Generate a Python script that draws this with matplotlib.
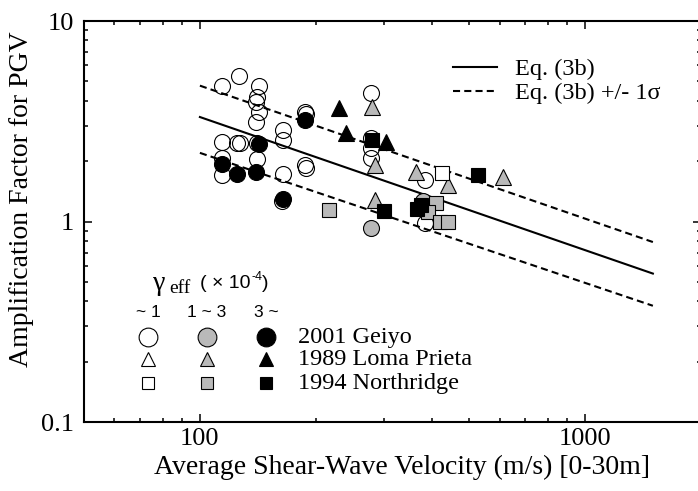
import matplotlib
matplotlib.use("Agg")
import matplotlib.pyplot as plt
from matplotlib.ticker import NullFormatter

plt.rcParams['font.family'] = ['Liberation Serif', 'DejaVu Serif']
plt.rcParams['font.size'] = 19

# --- data (Vs30 in m/s, amplification factor) ---
# 2001 Geiyo
geiyo_low_v = [114, 126, 142, 141, 140, 142, 140, 114, 125, 127, 141, 114, 114,
               141, 164, 164, 164, 187, 189, 187, 189, 278, 278, 278, 278, 383,
               383, 163]
geiyo_low_amp = [4.74, 5.32, 4.74, 4.19, 3.96, 3.53, 3.15, 2.50, 2.47, 2.45, 2.46,
                 2.07, 1.71, 2.05, 2.86, 2.55, 1.73, 3.52, 3.45, 1.92, 1.85, 4.39,
                 2.61, 2.33, 2.07, 1.61, 0.98, 1.26]
geiyo_mid_v = [278, 380]
geiyo_mid_amp = [0.925, 1.27]
geiyo_high_v = [114, 125, 140, 142, 187, 164]
geiyo_high_amp = [1.94, 1.73, 1.77, 2.44, 3.21, 1.29]

# 1989 Loma Prieta
loma_mid_v = [280, 284, 284, 365, 441, 611]
loma_mid_amp = [3.72, 1.91, 1.28, 1.77, 1.52, 1.67]
loma_high_v = [229, 240, 305]
loma_high_amp = [3.68, 2.77, 2.50]

# 1994 Northridge
north_low_v = [424]
north_low_amp = [1.75]
north_mid_v = [216, 411, 391, 419, 440]
north_mid_amp = [1.14, 1.24, 1.12, 0.99, 0.99]
north_high_v = [280, 301, 526, 366, 376]
north_high_amp = [2.55, 1.13, 1.71, 1.16, 1.21]

# Eq. (3b) and +/- 1 sigma, end points
eq_v = [100, 1500]
eq_amp = [3.32, 0.55]
eq_upper = [4.76, 0.79]
eq_lower = [2.20, 0.38]

gray = '#b9b9b9'

fig = plt.figure(figsize=(6.98, 4.91), dpi=100)
ax = fig.add_axes([0.1203, 0.1405, 0.884, 0.8167])
ax.set_xscale('log')
ax.set_yscale('log')
ax.set_xlim(50, 2000)
ax.set_ylim(0.1, 10)

dash = (3.4, 2.0)
ax.plot(eq_v, eq_amp, color='black', lw=1.5, label='Eq. (3b)')
ax.plot(eq_v, eq_upper, color='black', lw=1.5, dashes=dash,
        label='Eq. (3b) +/- 1σ')
ax.plot(eq_v, eq_lower, color='black', lw=1.5, dashes=dash)

def pts(v, a, marker, face, ms):
    ax.plot(v, a, ls='none', marker=marker, ms=ms, mfc=face, mec='black',
            mew=0.8)

pts(geiyo_low_v, geiyo_low_amp, 'o', 'none', 11.5)
pts(geiyo_mid_v, geiyo_mid_amp, 'o', gray, 11.5)
pts(geiyo_high_v, geiyo_high_amp, 'o', 'black', 11.5)
pts(loma_mid_v, loma_mid_amp, '^', gray, 11)
pts(loma_high_v, loma_high_amp, '^', 'black', 11)
pts(north_low_v, north_low_amp, 's', 'white', 9.4)
pts(north_mid_v, north_mid_amp, 's', gray, 9.4)
pts(north_high_v, north_high_amp, 's', 'black', 9.4)

ax.set_xticks([100, 1000])
ax.set_xticklabels(['100', '1000'])
ax.set_yticks([0.1, 1, 10])
ax.set_yticklabels(['0.1', '1', '10'])
ax.xaxis.set_minor_formatter(NullFormatter())
ax.yaxis.set_minor_formatter(NullFormatter())
ax.tick_params(which='both', direction='in', top=True, right=True, width=1.1)
ax.tick_params(which='major', length=5.5)
ax.tick_params(which='minor', length=3)
ax.tick_params(axis='x', pad=4)
ax.tick_params(axis='y', pad=7)
for s in ax.spines.values():
    s.set_linewidth(1.5)

ax.set_xlabel('Average Shear-Wave Velocity (m/s) [0-30m]', fontsize=20)
ax.set_ylabel('Amplification Factor for PGV', fontsize=20)
ax.xaxis.set_label_coords(0.515, -0.082)
ax.yaxis.set_label_coords(-0.081, 0.555)

ax.legend(loc='upper left', bbox_to_anchor=(453 / 698, 1 - 58 / 491),
          bbox_transform=fig.transFigure, frameon=False, handlelength=1.8,
          handletextpad=0.75, labelspacing=0.1, borderpad=0, borderaxespad=0,
          fontsize=17.5)

# gamma_eff key in the lower left
sans = ['Liberation Sans', 'DejaVu Sans']
T = ax.transAxes
ax.text(0.1215, 0.345, 'γ', transform=T, ha='center', va='center', fontsize=20)
ax.text(0.139, 0.333, 'eff', transform=T, ha='left', va='center', fontsize=14)
ax.text(0.188, 0.345, '( × 10', transform=T, ha='left', va='center',
        fontsize=14, family=sans)
ax.text(0.271, 0.362, '-4', transform=T, ha='left', va='center', fontsize=9,
        family=sans)
ax.text(0.288, 0.345, ')', transform=T, ha='left', va='center', fontsize=14,
        family=sans)
cols = [0.104, 0.199, 0.295]
heads = ['~ 1', '1 ~ 3', '3 ~']
for cx, h in zip(cols, heads):
    ax.text(cx, 0.272, h, transform=T, ha='center', va='center', fontsize=12.5,
            family=sans)
rows = [(0.212, 'o', 13.5, '2001 Geiyo'),
        (0.157, '^', 10, '1989 Loma Prieta'),
        (0.097, 's', 8.6, '1994 Northridge')]
for ry, mk, ms, lab in rows:
    for cx, fc in zip(cols, ['white', gray, 'black']):
        ax.plot([cx], [ry], transform=T, marker=mk, ms=ms, mfc=fc, mec='black',
                mew=0.8, ls='none', clip_on=False)
    ax.text(0.347, ry, lab, transform=T, ha='left', va='center', fontsize=17.5)

fig.savefig('out.png', dpi=100)
